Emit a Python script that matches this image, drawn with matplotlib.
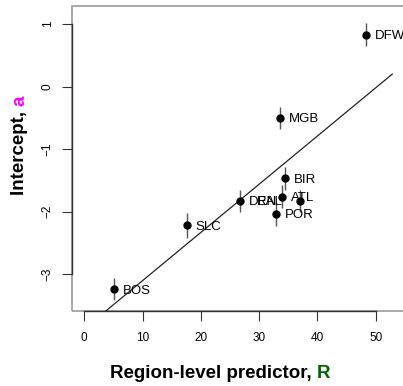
import numpy as np
import matplotlib
matplotlib.use('Agg')
import matplotlib.pyplot as plt
from matplotlib.patches import Rectangle

plt.rcParams['font.family'] = ['Liberation Sans', 'DejaVu Sans']

# region-level estimates
regions = ['BOS', 'SLC', 'DEN', 'POR', 'ATL', 'RAL', 'BIR', 'MGB', 'DFW']
R_pred = [5.1, 17.6, 26.7, 32.9, 33.9, 37.1, 34.4, 33.6, 48.3]
a_mean = [-3.24, -2.22, -1.83, -2.04, -1.76, -1.83, -1.47, -0.50, 0.83]
a_sd = [0.18, 0.20, 0.18, 0.19, 0.18, 0.18, 0.19, 0.18, 0.18]

# fitted line a = b0 + b1 * R
b0 = -3.877
b1 = 0.0771
line_R = [0, 52.85]

xticks = [0, 10, 20, 30, 40, 50]
yticks = [-3, -2, -1, 0, 1]

# label offsets in points (some labels were pushed by hand in the original)
lab_dx = {r: 6.5 for r in regions}
lab_dx['RAL'] = -31.5

fig = plt.figure(figsize=(4.03, 3.86), dpi=100)
W, H = 403, 386
ax = fig.add_axes([72 / W, 75 / H, (410 - 72) / W, (311 - 6) / H])

ax.errorbar(R_pred, a_mean, yerr=a_sd, fmt='o', color='black', ms=5,
            ecolor='#555555', elinewidth=1, capsize=0, zorder=3)
lx = np.array(line_R)
ax.plot(lx, b0 + b1 * lx, color='#222222', lw=0.9, zorder=2)

for r, x, y in zip(regions, R_pred, a_mean):
    ax.annotate(r, (x, y), xytext=(lab_dx[r], 0), textcoords='offset points',
                ha='left', va='center_baseline', fontsize=9.5, zorder=4)

ax.set_xlim(-2.11, 55.9)
ax.set_ylim(-3.592, 1.288)
ax.set_xticks(xticks)
ax.set_yticks(yticks)

for s in ['top', 'right']:
    ax.spines[s].set_visible(False)
ax.spines['left'].set_bounds(-3, 1)
ax.spines['bottom'].set_bounds(0, 50)
for s in ['left', 'bottom']:
    ax.spines[s].set_color('#333333')
    ax.spines[s].set_linewidth(1)
ax.add_patch(Rectangle((0, 0), 1, 1, transform=ax.transAxes, fill=False,
                       edgecolor='#9a9a9a', lw=1.2, clip_on=False, zorder=0.5))

ax.tick_params(length=7, width=0.8, color='#333333', labelsize=8.5, pad=8)
ax.tick_params(axis='y', labelrotation=90, pad=6)
for t in ax.get_yticklabels():
    t.set_va('center')

# axis titles with a coloured symbol
t1 = fig.text(110 / W, 8 / H, 'Region-level predictor, ', fontsize=13.5,
              fontweight='bold', ha='left', va='baseline')
fig.canvas.draw()
bb = t1.get_window_extent()
fig.text(bb.x1 / W, 8 / H, 'R', fontsize=13.5, fontweight='bold',
         color='#006400', ha='left', va='baseline')

t2 = fig.text(20 / W, (386 - 195) / H, 'Intercept, ', fontsize=13.5,
              fontweight='bold', rotation=90, ha='center', va='bottom')
fig.canvas.draw()
bb2 = t2.get_window_extent()
fig.text(bb2.x1 / W, bb2.y1 / H, 'a', fontsize=13.5, fontweight='bold',
         color='magenta', rotation=90, ha='right', va='bottom')

fig.savefig('out.png', dpi=100)
